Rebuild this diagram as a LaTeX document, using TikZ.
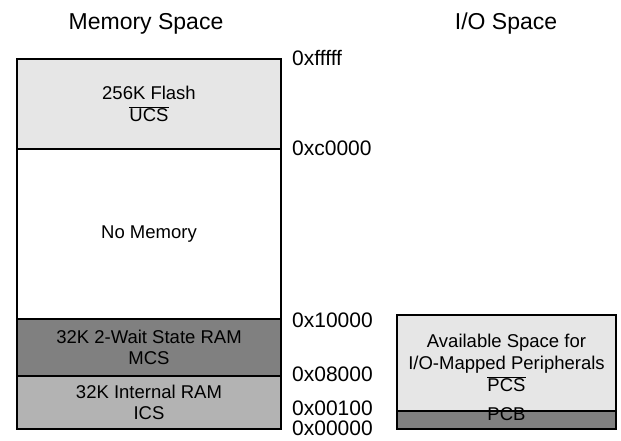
\documentclass[tikz,border=0pt]{standalone}
\usepackage{fontspec}
\setmainfont{Liberation Sans}
\newcommand{\ovl}[1]{$\overline{\hbox{#1}}$}
\begin{document}
\begin{tikzpicture}[x=1pt,y=-1pt,
  region/.style={draw=black, line width=2pt, anchor=north west, inner sep=0pt, align=center,
    font=\fontsize{18.5}{21.7}\selectfont},
  title/.style={font=\fontsize{23}{26}\selectfont, inner sep=0pt},
  addr/.style={font=\fontsize{21}{24}\selectfont, anchor=west, inner sep=0pt}]
\useasboundingbox (0,0) rectangle (621,441);
\definecolor{lightg}{HTML}{E6E6E6}
\definecolor{midg}{HTML}{B3B3B3}
\definecolor{darkg}{HTML}{808080}
% titles
\node[title] (tmem) at (146,24) {Memory Space};
\node[title] (tio) at (506,24) {I/O Space};
% memory regions
\node[region, fill=lightg, minimum width=264pt, minimum height=90pt] (flash) at (16,58) {256K Flash\\\ovl{UCS}};
\node[region, fill=white, minimum width=264pt, minimum height=170pt] (nomem) at (16,148) {No Memory};
\node[region, fill=darkg, minimum width=264pt, minimum height=57pt] (mcs) at (16,318) {32K 2-Wait State RAM\\MCS};
\node[region, fill=midg, minimum width=264pt, minimum height=53pt] (ics) at (16,375) {32K Internal RAM\\ICS};
% I/O regions
\node[region, fill=lightg, minimum width=219pt, minimum height=96pt] (avail) at (396,314) {Available Space for\\I/O-Mapped Peripherals\\\ovl{PCS}};
\node[region, fill=darkg, minimum width=219pt, minimum height=18pt] (pcb) at (396,410) {\raisebox{0pt}[0pt][0pt]{PCB}};
% addresses
\node[addr] (a1) at (292,58) {0xfffff};
\node[addr] (a2) at (292,148) {0xc0000};
\node[addr] (a3) at (292,320) {0x10000};
\node[addr] (a4) at (292,374) {0x08000};
\node[addr] (a5) at (292,408) {0x00100};
\node[addr] (a6) at (292,428) {0x00000};
\end{tikzpicture}
\end{document}
